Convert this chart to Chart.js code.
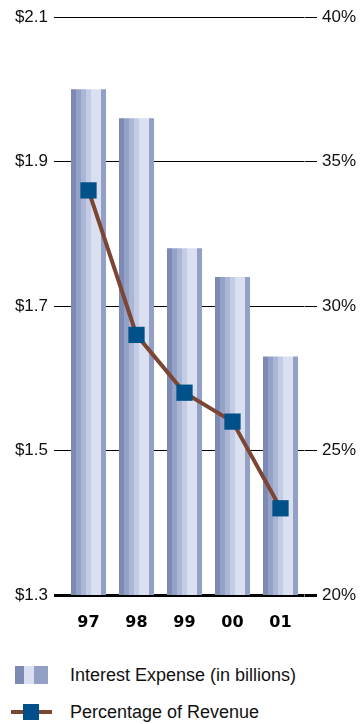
<!DOCTYPE html>
<html>
<head>
<meta charset="utf-8">
<script src="https://cdn.jsdelivr.net/npm/chart.js@4/dist/chart.umd.min.js"></script>
<style>
  body { margin: 0; background: #fff; font-family: "Liberation Sans", Arial, sans-serif; }
  #wrap { position: relative; width: 362px; height: 724px; }
  #legend { position: absolute; left: 0; top: 657px; width: 362px; }
  .item { position: relative; height: 37px; font-size: 18px; color: #111; }
  .item span { position: absolute; left: 70px; top: 8px; line-height: 20px; }
  .bar-key { position: absolute; left: 15px; top: 9px; width: 33px; height: 18px;
    background: linear-gradient(to right, #7d8ab4 0, #7d8ab4 9px, #dbe0f0 9px, #dbe0f0 19px, #93a0c5 19px); }
  .line-key { position: absolute; left: 11px; top: 16px; width: 41px; height: 4px; background: #7b4633; }
  .line-key i { position: absolute; left: 12px; top: -6px; width: 16px; height: 16px; background: #00508a; }
</style>
</head>
<body>
<div id="wrap">
  <canvas id="interestChart" width="362" height="645"></canvas>
  <div id="legend">
    <div class="item"><div class="bar-key"></div><span>Interest Expense (in billions)</span></div>
    <div class="item"><div class="line-key"><i></i></div><span>Percentage of Revenue</span></div>
  </div>
</div>
<script>
const years = ['97', '98', '99', '00', '01'];
const interestExpense = [2.00, 1.96, 1.78, 1.74, 1.63];
const pctOfRevenue = [34, 29, 27, 26, 23];
const dollarTicks = [1.3, 1.5, 1.7, 1.9, 2.1];
const pctTicks = [20, 25, 30, 35, 40];

// vertical stripes that give each bar its rounded look
const stripes = [
  [0, '#7d8ab4'], [0.143, '#95a2c8'], [0.286, '#abb5d5'],
  [0.429, '#c4cce5'], [0.571, '#dbe0f0'], [0.857, '#93a0c5']
];
const BAR_PCT = 0.73;

function stripeFill(ctx) {
  const chart = ctx.chart;
  const x = chart.scales.x;
  if (!chart.chartArea || ctx.dataIndex === undefined) return '#aab4d4';
  const w = (x.width / years.length) * BAR_PCT;
  const cx = x.getPixelForValue(ctx.dataIndex);
  const g = chart.ctx.createLinearGradient(cx - w / 2, 0, cx + w / 2, 0);
  for (let i = 0; i < stripes.length; i++) {
    const end = i + 1 < stripes.length ? stripes[i + 1][0] : 1;
    g.addColorStop(stripes[i][0], stripes[i][1]);
    g.addColorStop(end - 0.0001, stripes[i][1]);
  }
  return g;
}

const tickFont = { family: '"Liberation Sans", Arial, sans-serif', size: 17 };

new Chart(document.getElementById('interestChart').getContext('2d'), {
  data: {
    labels: years,
    datasets: [
      {
        type: 'line', label: 'Percentage of Revenue', data: pctOfRevenue, yAxisID: 'y2', order: 0,
        borderColor: '#7b4633', borderWidth: 4, tension: 0,
        pointStyle: 'rect', pointRadius: 11.5, pointHoverRadius: 11.5,
        pointBackgroundColor: '#00508a', pointBorderWidth: 0
      },
      {
        type: 'bar', label: 'Interest Expense (in billions)', data: interestExpense, yAxisID: 'y', order: 1,
        backgroundColor: stripeFill, barPercentage: BAR_PCT, categoryPercentage: 1
      }
    ]
  },
  options: {
    responsive: false,
    animation: false,
    layout: { padding: { top: 17, left: 0, right: 0, bottom: 0 } },
    plugins: { legend: { display: false }, tooltip: { enabled: false } },
    scales: {
      x: {
        grid: { display: false, drawTicks: false },
        border: { display: false },
        ticks: { color: '#000', padding: 18, font: { family: '"DejaVu Sans", sans-serif', size: 16, weight: 'bold' } },
        afterFit: s => { s.height = 50; }
      },
      y: {
        position: 'left', min: 1.3, max: 2.1,
        afterBuildTicks: s => { s.ticks = dollarTicks.map(v => ({ value: v })); },
        grid: { color: '#000', tickColor: '#000', tickLength: 10.5,
                lineWidth: c => (c.tick && c.tick.value === 1.3 ? 3 : 1) },
        border: { display: false },
        ticks: { color: '#111', padding: 6, font: tickFont, callback: v => '$' + v.toFixed(1) },
        afterFit: s => { s.width = 64.5; }
      },
      y2: {
        position: 'right', min: 20, max: 40,
        afterBuildTicks: s => { s.ticks = pctTicks.map(v => ({ value: v })); },
        grid: { drawOnChartArea: false, tickColor: '#000', tickLength: 12.5,
                lineWidth: c => (c.tick && c.tick.value === 20 ? 3 : 1) },
        border: { display: false },
        ticks: { color: '#111', padding: 5, font: tickFont, callback: v => v + '%' },
        afterFit: s => { s.width = 57.5; }
      }
    }
  }
});
</script>
</body>
</html>
